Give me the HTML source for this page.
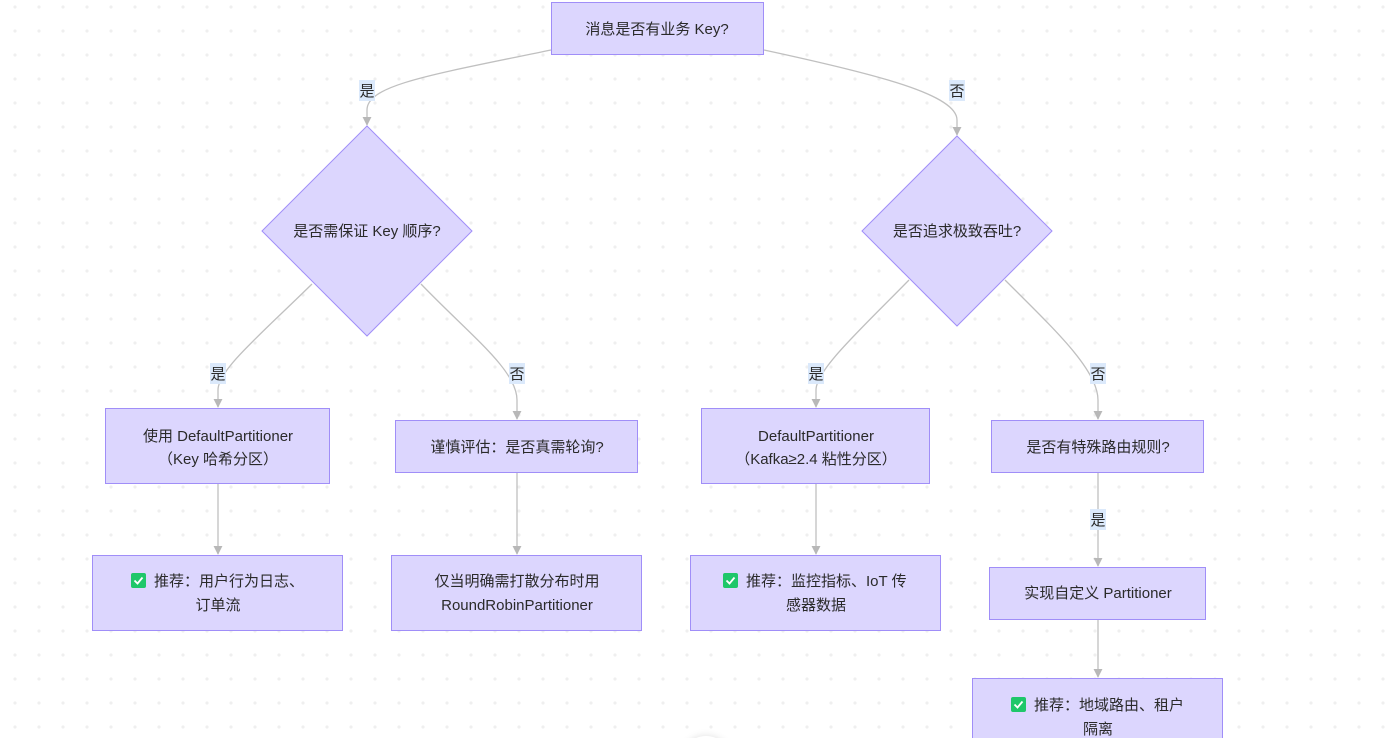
<!DOCTYPE html>
<html><head><meta charset="utf-8"><style>
html,body{margin:0;padding:0;background:#fff;width:1398px;height:738px;overflow:hidden;}
svg{display:block;}
text{font-family:"Liberation Sans","Noto Sans CJK SC",sans-serif;font-size:15px;fill:#2a2a2a;}
.n{fill:#dcd6fe;stroke:#a08ef8;stroke-width:1;}
.e{fill:none;stroke:#c0c0c0;stroke-width:1.3;}
.lb{fill:#dbe9fb;}
</style></head><body>
<svg width="1398" height="738" viewBox="0 0 1398 738" xmlns="http://www.w3.org/2000/svg">
<defs>
<pattern id="dots" x="15" y="7" width="24" height="24" patternUnits="userSpaceOnUse">
<circle cx="0" cy="0" r="1.6" fill="#efefef"/><circle cx="24" cy="0" r="1.6" fill="#efefef"/><circle cx="0" cy="24" r="1.6" fill="#efefef"/><circle cx="24" cy="24" r="1.6" fill="#efefef"/>
</pattern>
<marker id="ar" viewBox="0 0 10 10" refX="9" refY="5" markerWidth="7" markerHeight="7" orient="auto"><path d="M0,0 L10,5 L0,10 z" fill="#b8b8b8"/></marker>
<radialGradient id="sh"><stop offset="0.7" stop-color="#e6e6e6"/><stop offset="1" stop-color="#fff" stop-opacity="0"/></radialGradient>
</defs>
<rect width="1398" height="738" fill="url(#dots)"/>

<path class="e" marker-end="url(#ar)" d="M551,50 C430,75 367,85 367,110 L367,125"/>
<path class="e" marker-end="url(#ar)" d="M764,50 C880,75 957,95 957,120 L957,135"/>
<path class="e" marker-end="url(#ar)" d="M312,284 C260,335 218,370 218,390 L218,407"/>
<path class="e" marker-end="url(#ar)" d="M421,284 C470,335 517,370 517,400 L517,419"/>
<path class="e" marker-end="url(#ar)" d="M909,280 C860,330 816,370 816,390 L816,407"/>
<path class="e" marker-end="url(#ar)" d="M1005,280 C1055,330 1098,370 1098,400 L1098,419"/>
<path class="e" marker-end="url(#ar)" d="M218,484 L218,554"/>
<path class="e" marker-end="url(#ar)" d="M517,473 L517,554"/>
<path class="e" marker-end="url(#ar)" d="M816,484 L816,554"/>
<path class="e" marker-end="url(#ar)" d="M1098,473 L1098,566"/>
<path class="e" marker-end="url(#ar)" d="M1098,620 L1098,677"/>

<rect class="lb" x="359" y="80" width="16" height="21"/><text x="367" y="96" text-anchor="middle">是</text>
<rect class="lb" x="949" y="80" width="16" height="21"/><text x="957" y="96" text-anchor="middle">否</text>
<rect class="lb" x="210" y="363" width="16" height="21"/><text x="218" y="379" text-anchor="middle">是</text>
<rect class="lb" x="509" y="363" width="16" height="21"/><text x="517" y="379" text-anchor="middle">否</text>
<rect class="lb" x="808" y="363" width="16" height="21"/><text x="816" y="379" text-anchor="middle">是</text>
<rect class="lb" x="1090" y="363" width="16" height="21"/><text x="1098" y="379" text-anchor="middle">否</text>
<rect class="lb" x="1090" y="509" width="16" height="21"/><text x="1098" y="525" text-anchor="middle">是</text>

<rect class="n" x="551.5" y="2.5" width="212" height="52"/>
<text x="657" y="34" text-anchor="middle">消息是否有业务 Key?</text>

<polygon class="n" points="367,126 472,231 367,336 262,231"/>
<text x="367" y="236" text-anchor="middle">是否需保证 Key 顺序?</text>

<polygon class="n" points="957,136 1052,231 957,326 862,231"/>
<text x="957" y="236" text-anchor="middle">是否追求极致吞吐?</text>

<rect class="n" x="105.5" y="408.5" width="224" height="75"/>
<text x="218" y="441" text-anchor="middle">使用 DefaultPartitioner</text>
<text x="218" y="464" text-anchor="middle">（Key 哈希分区）</text>

<rect class="n" x="395.5" y="420.5" width="242" height="52"/>
<text x="517" y="452" text-anchor="middle">谨慎评估：是否真需轮询?</text>

<rect class="n" x="701.5" y="408.5" width="228" height="75"/>
<text x="816" y="441" text-anchor="middle">DefaultPartitioner</text>
<text x="816" y="464" text-anchor="middle">（Kafka≥2.4 粘性分区）</text>

<rect class="n" x="991.5" y="420.5" width="212" height="52"/>
<text x="1098" y="452" text-anchor="middle">是否有特殊路由规则?</text>

<rect class="n" x="92.5" y="555.5" width="250" height="75"/>
<rect x="131" y="573" width="15" height="15" rx="2" fill="#1fc76a"/><path d="M134.5,580.5 l3,3 l5,-6" stroke="#fff" stroke-width="1.8" fill="none"/>
<text x="154" y="586">推荐：用户行为日志、</text>
<text x="218" y="610" text-anchor="middle">订单流</text>

<rect class="n" x="391.5" y="555.5" width="250" height="75"/>
<text x="517" y="586" text-anchor="middle">仅当明确需打散分布时用</text>
<text x="517" y="610" text-anchor="middle">RoundRobinPartitioner</text>

<rect class="n" x="690.5" y="555.5" width="250" height="75"/>
<rect x="723" y="573" width="15" height="15" rx="2" fill="#1fc76a"/><path d="M726.5,580.5 l3,3 l5,-6" stroke="#fff" stroke-width="1.8" fill="none"/>
<text x="746" y="586">推荐：监控指标、IoT 传</text>
<text x="816" y="610" text-anchor="middle">感器数据</text>

<rect class="n" x="989.5" y="567.5" width="216" height="52"/>
<text x="1098" y="598" text-anchor="middle">实现自定义 Partitioner</text>

<rect class="n" x="972.5" y="678.5" width="250" height="70"/>
<rect x="1011" y="697" width="15" height="15" rx="2" fill="#1fc76a"/><path d="M1014.5,704.5 l3,3 l5,-6" stroke="#fff" stroke-width="1.8" fill="none"/>
<text x="1034" y="710">推荐：地域路由、租户</text>
<text x="1098" y="734" text-anchor="middle">隔离</text>

<circle cx="706" cy="762" r="34" fill="url(#sh)"/>
<circle cx="706" cy="762" r="26" fill="#fff"/>
</svg>
</body></html>
